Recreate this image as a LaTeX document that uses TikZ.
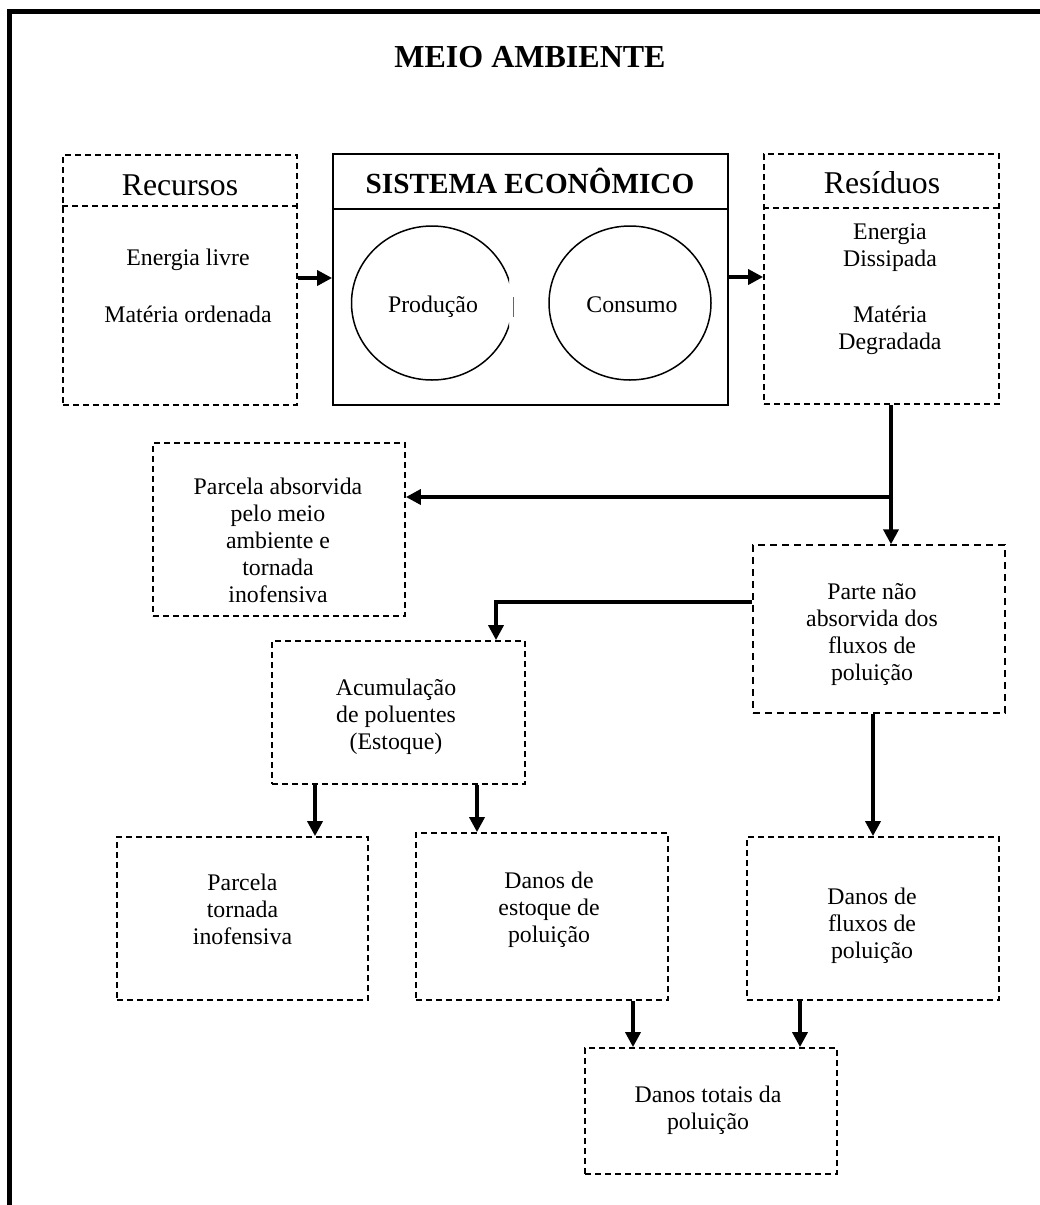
\documentclass[tikz,border=0pt]{standalone}
\usepackage{fontspec}
\setmainfont{Liberation Serif}
\usetikzlibrary{arrows.meta,shapes.geometric}
\begin{document}
\begin{tikzpicture}[x=1pt,y=-1pt,
  dbox/.style={draw, dash pattern=on 6pt off 4pt, line width=1.8pt, inner sep=0pt},
  thinbox/.style={draw, dash pattern=on 7pt off 5pt, line width=1.3pt, inner sep=0pt},
  sbox/.style={draw, line width=1.8pt, inner sep=0pt},
  dline/.style={dash pattern=on 6pt off 4pt, line width=1.8pt},
  txt/.style={inner sep=0pt, align=center, font=\fontsize{23.8pt}{27pt}\selectfont},
  head/.style={inner sep=0pt, font=\fontsize{31.7pt}{36pt}\selectfont},
  flow/.style={line width=3.6pt, -{Triangle[length=15pt,width=15pt]}},
  frame/.style={line width=5pt, line join=miter}]
\useasboundingbox (0,0) rectangle (1040,1205);

% outer frame (top and left edges)
\draw[frame] (9.5,1215) -- (9.5,11) -- (1050,11);

% title
\node[inner sep=0pt, anchor=base, font=\bfseries\fontsize{32pt}{37pt}\selectfont] (title) at (530,67) {MEIO AMBIENTE};

% resources
\node[dbox, minimum width=234pt, minimum height=250pt] (rec) at (180,280) {};
\draw[dline] (rec.west |- 0,206) -- (rec.east |- 0,206);
\node[head, anchor=base] (recT) at (180,195) {Recursos};
\node[txt] (recB) at (188,285.5) {Energia livre\\[30pt]Matéria ordenada};

% economic system
\node[sbox, minimum width=395pt, minimum height=251pt] (sis) at (530.5,279.5) {};
\draw[line width=1.8pt] (sis.west |- 0,209) -- (sis.east |- 0,209);
\node[inner sep=0pt, anchor=base, font=\bfseries\fontsize{29.2pt}{34pt}\selectfont] (sisT) at (530,193) {SISTEMA ECONÔMICO};
\begin{scope}
  \clip (333,154) rectangle (509,405);
  \node[ellipse, draw, line width=1.5pt, inner sep=0pt, minimum width=161pt, minimum height=154pt] (prod) at (432,303) {};
\end{scope}
\draw[line width=1pt, black!60] (513,297) -- (513,317);
\node[txt, anchor=base] (prodT) at (433,312) {Produção};
\node[ellipse, draw, line width=1.5pt, inner sep=0pt, minimum width=162pt, minimum height=154pt] (cons) at (630,303) {};
\node[txt, anchor=base] (consT) at (632,312) {Consumo};

% residues
\node[dbox, minimum width=235pt, minimum height=250pt] (res) at (881.5,279) {};
\draw[dline] (res.west |- 0,208) -- (res.east |- 0,208);
\node[head, anchor=base] (resT) at (882,193) {Resíduos};
\node[txt] (resB) at (890,289) {Energia\\Dissipada\\[29pt]Matéria\\Degradada};

% pollution flow boxes
\node[dbox, minimum width=252pt, minimum height=173pt] (pab) at (279,529.5) {};
\node[txt] (pabT) at (278,540) {Parcela absorvida\\pelo meio\\ambiente e\\tornada\\inofensiva};

\node[thinbox, minimum width=252pt, minimum height=168pt] (pna) at (879,629) {};
\node[txt] (pnaT) at (872,635) {Parte não\\absorvida dos\\fluxos de\\poluição};

\node[dbox, minimum width=253pt, minimum height=143pt] (acu) at (398.5,712.5) {};
\node[txt] (acuT) at (396,716.5) {Acumulação\\de poluentes\\(Estoque)};

\node[dbox, minimum width=251pt, minimum height=163pt] (pti) at (242.5,918.5) {};
\node[txt] (ptiT) at (242.5,909.5) {Parcela\\tornada\\inofensiva};

\node[dbox, minimum width=252pt, minimum height=167pt] (des) at (542,916.5) {};
\node[txt] (desT) at (549,909.5) {Danos de\\estoque de\\poluição};

\node[dbox, minimum width=252pt, minimum height=163pt] (dfl) at (873,918.5) {};
\node[txt] (dflT) at (872,925.5) {Danos de\\fluxos de\\poluição};

\node[dbox, minimum width=252pt, minimum height=126pt] (dto) at (711,1111) {};
\node[txt] (dtoT) at (708,1110) {Danos totais da\\poluição};

% connectors
\coordinate (a1) at (0,278);
\draw[flow] (rec.east |- a1) -- (sis.west |- a1);
\coordinate (a2) at (0,277);
\draw[flow] (sis.east |- a2) -- (res.west |- a2);

\coordinate (j1) at (891,497);
\draw[flow] (j1 |- res.south) -- (j1 |- pna.north);
\draw[flow] (j1) -- (j1 -| pab.east);

\coordinate (j2) at (496,602);
\draw[flow] (j2 -| pna.west) -- (j2) -- (j2 |- acu.north);

\coordinate (k1) at (315,0);
\draw[flow] (k1 |- acu.south) -- (k1 |- pti.north);
\coordinate (k2) at (477,0);
\draw[flow] (k2 |- acu.south) -- (k2 |- des.north);
\coordinate (k3) at (873,0);
\draw[flow] (k3 |- pna.south) -- (k3 |- dfl.north);
\coordinate (k4) at (633,0);
\draw[flow] (k4 |- des.south) -- (k4 |- dto.north);
\coordinate (k5) at (800,0);
\draw[flow] (k5 |- dfl.south) -- (k5 |- dto.north);
\end{tikzpicture}
\end{document}
